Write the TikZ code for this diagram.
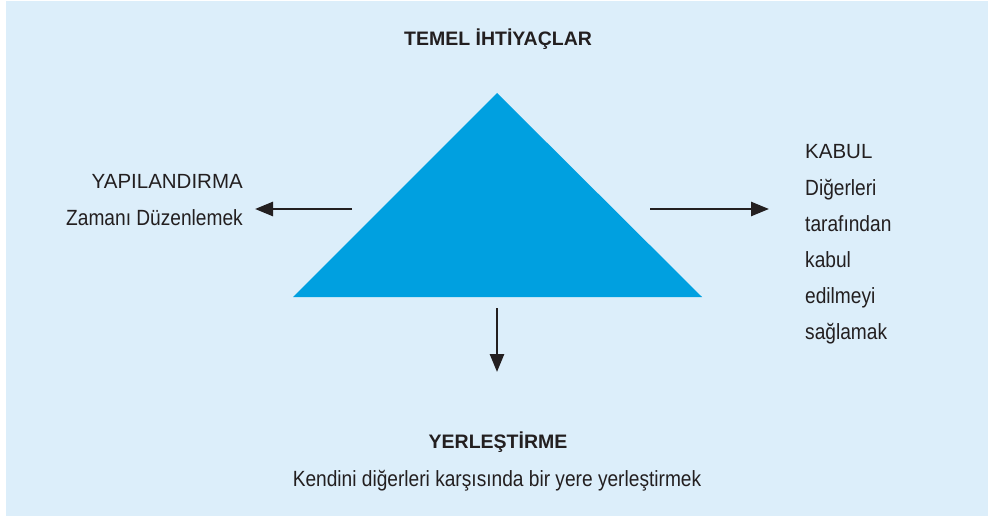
\documentclass[tikz,border=0pt]{standalone}
\usepackage{fontspec}
\setmainfont{Liberation Sans}[FakeStretch=0.87]
\newfontfamily\titlefam{Liberation Sans}
\usetikzlibrary{arrows.meta}
\definecolor{bgblue}{HTML}{DCEEFA}
\definecolor{triblue}{HTML}{00A0E0}
\definecolor{ink}{HTML}{231F20}
\tikzset{
  ttl/.style={text=ink, inner sep=0pt, font=\titlefam\fontsize{19.5}{22}\selectfont\bfseries},
  head/.style={text=ink, inner sep=0pt, font=\titlefam\fontsize{20.5}{24}\selectfont},
  lbl/.style={text=ink, inner sep=0pt, font=\fontsize{22}{26}\selectfont},
  arr/.style={draw=ink, line width=2.6pt, -{Triangle[length=18pt,width=14pt]}}
}
\begin{document}
\begin{tikzpicture}[x=1pt,y=-1pt]
\useasboundingbox (0,0) rectangle (988,516);
\fill[white] (0,0) rectangle (988,516);
\fill[bgblue] (6,1) rectangle (988,516);
% triangle
\coordinate (apex) at (497,93);
\coordinate (bl) at (293,297);
\coordinate (br) at (702,297);
\fill[triblue] (apex) -- (br) -- (bl) -- cycle;
% arrows
\coordinate (la) at (352,209);
\coordinate (lt) at (255,209);
\coordinate (ra) at (650,209);
\coordinate (rt) at (769,209);
\coordinate (da) at (497,308);
\coordinate (dt) at (497,372);
\draw[arr] (la) -- (lt);
\draw[arr] (ra) -- (rt);
\draw[arr] (da) -- (dt);
% texts
\node[ttl, anchor=base] (top) at (498,46) {TEMEL İHTİYAÇLAR};
\node[head, anchor=base east] (ya) at (243,188) {YAPILANDIRMA};
\node[lbl, anchor=base east] (za) at (243,225) {Zamanı Düzenlemek};
\node[head, anchor=base west] (ka) at (805,159) {KABUL};
\node[lbl, anchor=base west] (k1) at (805,195) {Diğerleri};
\node[lbl, anchor=base west] (k2) at (805,231) {tarafından};
\node[lbl, anchor=base west] (k3) at (805,267) {kabul};
\node[lbl, anchor=base west] (k4) at (805,303) {edilmeyi};
\node[lbl, anchor=base west] (k5) at (805,339) {sağlamak};
\node[ttl, anchor=base] (ye) at (498,448) {YERLEŞTİRME};
\node[lbl, anchor=base] (ke) at (497,486) {Kendini diğerleri karşısında bir yere yerleştirmek};
\end{tikzpicture}
\end{document}
